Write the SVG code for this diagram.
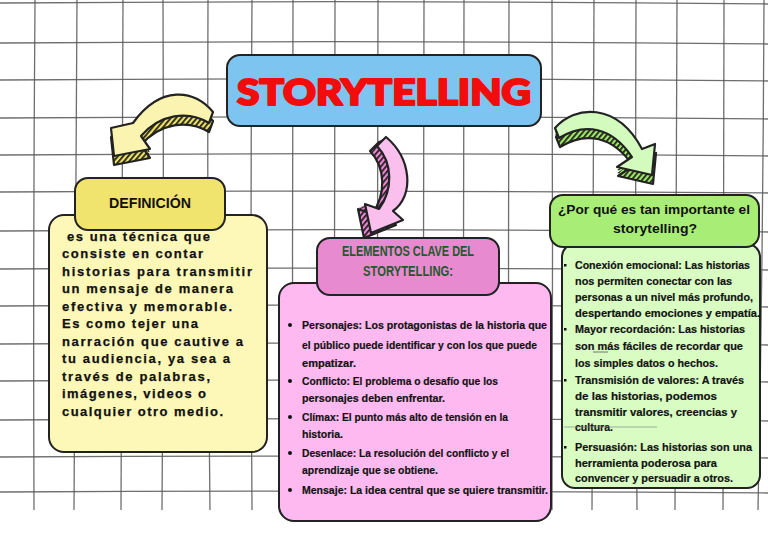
<svg xmlns="http://www.w3.org/2000/svg" width="768" height="544" viewBox="0 0 768 544">
<style>
.g{stroke:#555;stroke-width:1.3;fill:none;opacity:.85}
.box{stroke:#222;stroke-width:2}
.top{stroke:#222;stroke-width:2.2;stroke-linejoin:round}
.bot{stroke:#222;stroke-width:2.2;stroke-linejoin:round}
.def{font-family:"Liberation Sans",Arial,sans-serif;font-weight:bold;font-size:13px;fill:#111;stroke:#111;stroke-width:0.25}
.el{font-family:"Liberation Sans",Arial,sans-serif;font-weight:bold;font-size:11.5px;fill:#111;stroke:#111;stroke-width:0.2}
.wh{font-family:"Liberation Sans",Arial,sans-serif;font-weight:bold;font-size:11.5px;fill:#111;stroke:#111;stroke-width:0.2}
.hd{font-family:"Liberation Sans",Arial,sans-serif;font-weight:bold;text-anchor:middle}
</style>
<defs>
<pattern id="hy" width="4" height="4" patternUnits="userSpaceOnUse" patternTransform="rotate(40)"><rect width="4" height="4" fill="#EEE262"/><rect width="1.8" height="4" fill="#222"/></pattern>
<pattern id="hp" width="4" height="4" patternUnits="userSpaceOnUse" patternTransform="rotate(40)"><rect width="4" height="4" fill="#EE86D6"/><rect width="1.8" height="4" fill="#222"/></pattern>
<pattern id="hg" width="4" height="4" patternUnits="userSpaceOnUse" patternTransform="rotate(40)"><rect width="4" height="4" fill="#9EE866"/><rect width="1.8" height="4" fill="#222"/></pattern>
<path id="ay" d="M213,112 C195,89 160,85 133,123 L111,128 L114,156 L150,149 L141,136 C160,114 188,110 209,123 Z"/>
<path id="ap" d="M386,137 C411,158 415,195 393,211 L403,220 L371,233 L365,204 L379,209 C393,190 393,163 377,146 Z"/>
<path id="ag" d="M555,128 C575,105 617,102 642,149 L655,144 L652,175 L617,167 L632,157 C612,127 585,122 559,138 Z"/>
</defs>
<rect width="768" height="544" fill="#fff"/>
<g id="grid">
<path class="g" d="M0,3 Q384,0 768,4"/>
<path class="g" d="M0,43 Q384,40 768,44"/>
<path class="g" d="M0,80 Q384,77 768,81"/>
<path class="g" d="M0,118 Q384,115 768,119"/>
<path class="g" d="M0,155 Q384,152 768,156"/>
<path class="g" d="M0,192 Q384,190 768,193"/>
<path class="g" d="M0,231 Q384,228 768,232"/>
<path class="g" d="M0,269 Q384,267 768,270"/>
<path class="g" d="M0,306 Q384,304 768,307"/>
<path class="g" d="M0,344 Q384,342 768,345"/>
<path class="g" d="M0,381 Q384,379 768,382"/>
<path class="g" d="M0,420 Q384,417 768,421"/>
<path class="g" d="M0,457 Q384,455 768,458"/>
<path class="g" d="M0,492 Q384,490 768,493"/>
<path class="g" d="M35,0 Q33,255 34,510"/>
<path class="g" d="M77,0 Q75,255 74,510"/>
<path class="g" d="M123,0 Q121,255 121,510"/>
<path class="g" d="M163,0 Q164,255 162,510"/>
<path class="g" d="M208,0 Q207,255 210,510"/>
<path class="g" d="M252,0 Q250,255 252,510"/>
<path class="g" d="M293,0 Q292,255 293,510"/>
<path class="g" d="M335,0 Q334,255 335,510"/>
<path class="g" d="M378,0 Q377,255 378,510"/>
<path class="g" d="M424,0 Q423,255 424,510"/>
<path class="g" d="M464,0 Q463,255 464,510"/>
<path class="g" d="M509,0 Q508,255 509,510"/>
<path class="g" d="M552,0 Q553,255 552,510"/>
<path class="g" d="M594,0 Q593,255 592,510"/>
<path class="g" d="M636,0 Q635,255 637,510"/>
<path class="g" d="M677,0 Q676,255 675,510"/>
<path class="g" d="M724,0 Q723,255 723,510"/>
<path class="g" d="M764,0 Q763,255 758,510"/>
</g>
<g id="connectors">
<g id="arrow-definicion">
<use href="#ay" transform="translate(0,3)" fill="url(#hy)"/>
<use href="#ay" transform="translate(0,6)" fill="url(#hy)"/>
<use href="#ay" transform="translate(0,9)" fill="url(#hy)" class="bot"/>
<use href="#ay" fill="#FBF4B0" class="top"/>
</g>
<g id="arrow-elementos">
<use href="#ap" transform="translate(-2,1)" fill="url(#hp)"/>
<use href="#ap" transform="translate(-4,2)" fill="url(#hp)"/>
<use href="#ap" transform="translate(-6,3)" fill="url(#hp)"/>
<use href="#ap" transform="translate(-7,5)" fill="url(#hp)" class="bot"/>
<use href="#ap" fill="#FBBFEE" class="top"/>
</g>
<g id="arrow-porque">
<use href="#ag" transform="translate(0,3)" fill="url(#hg)"/>
<use href="#ag" transform="translate(0,6)" fill="url(#hg)"/>
<use href="#ag" transform="translate(1,9)" fill="url(#hg)" class="bot"/>
<use href="#ag" fill="#D3FBBE" class="top"/>
</g>
</g>
<g id="storytelling">
<rect class="box" x="227" y="55" width="314" height="71" rx="13" fill="#7DC5F0"/>
<text x="237" y="105" font-family="Lato, Inter, 'DejaVu Sans', sans-serif" font-weight="900" font-size="36" fill="#F20C0C" stroke="#F20C0C" stroke-width="2.2" stroke-linejoin="round" textLength="294" lengthAdjust="spacingAndGlyphs">STORYTELLING</text>
</g>
<g id="definicion">
<rect class="box" x="49" y="215" width="218" height="237" rx="15" fill="#FEF8B8"/>
<rect class="box" x="75" y="178" width="150" height="52" rx="13" fill="#F0E46E"/>
<text class="hd" x="150" y="208" font-size="15" fill="#111" textLength="82" lengthAdjust="spacingAndGlyphs">DEFINICIÓN</text>
<text class="def" x="67" y="241" textLength="143">es una técnica que</text>
<text class="def" x="62" y="258" textLength="141">consiste en contar</text>
<text class="def" x="62" y="276" textLength="190">historias para transmitir</text>
<text class="def" x="62" y="293" textLength="171">un mensaje de manera</text>
<text class="def" x="62" y="311" textLength="170">efectiva y memorable.</text>
<text class="def" x="62" y="328" textLength="136">Es como tejer una</text>
<text class="def" x="62" y="346" textLength="181">narración que cautive a</text>
<text class="def" x="62" y="363" textLength="168">tu audiencia, ya sea a</text>
<text class="def" x="62" y="381" textLength="148">través de palabras,</text>
<text class="def" x="62" y="398" textLength="144">imágenes, videos o</text>
<text class="def" x="62" y="416" textLength="161">cualquier otro medio.</text>
</g>
<g id="elementos">
<rect class="box" x="279" y="283" width="272" height="238" rx="15" fill="#FDB9F0"/>
<rect class="box" x="317" y="238" width="182" height="57" rx="13" fill="#E88ACF"/>
<text class="hd" x="408" y="256" font-size="14" fill="#1E5A2C" textLength="132" lengthAdjust="spacingAndGlyphs">ELEMENTOS CLAVE DEL</text>
<text class="hd" x="408" y="276" font-size="14" fill="#1E5A2C" textLength="90" lengthAdjust="spacingAndGlyphs">STORYTELLING:</text>
<g fill="#111"><circle cx="290" cy="325" r="2"/><circle cx="290" cy="381" r="2"/><circle cx="290" cy="417" r="2"/><circle cx="290" cy="453" r="2"/><circle cx="290" cy="490" r="2"/></g>
<text class="el" x="302" y="329" textLength="245" lengthAdjust="spacingAndGlyphs">Personajes: Los protagonistas de la historia que</text>
<text class="el" x="302" y="349" textLength="235" lengthAdjust="spacingAndGlyphs">el público puede identificar y con los que puede</text>
<text class="el" x="302" y="367" textLength="54" lengthAdjust="spacingAndGlyphs">empatizar.</text>
<text class="el" x="302" y="385" textLength="196" lengthAdjust="spacingAndGlyphs">Conflicto: El problema o desafío que los</text>
<text class="el" x="302" y="402" textLength="143" lengthAdjust="spacingAndGlyphs">personajes deben enfrentar.</text>
<text class="el" x="302" y="421" textLength="206" lengthAdjust="spacingAndGlyphs">Clímax: El punto más alto de tensión en la</text>
<text class="el" x="302" y="438" textLength="41" lengthAdjust="spacingAndGlyphs">historia.</text>
<text class="el" x="302" y="457" textLength="207" lengthAdjust="spacingAndGlyphs">Desenlace: La resolución del conflicto y el</text>
<text class="el" x="302" y="474" textLength="136" lengthAdjust="spacingAndGlyphs">aprendizaje que se obtiene.</text>
<text class="el" x="302" y="494" textLength="246" lengthAdjust="spacingAndGlyphs">Mensaje: La idea central que se quiere transmitir.</text>
</g>
<g id="porque">
<rect class="box" x="562" y="244" width="198" height="244" rx="13" fill="#D8FCC2"/>
<rect class="box" x="550" y="195" width="209" height="52" rx="13" fill="#A8EE76"/>
<text class="hd" x="654" y="214" font-size="13" fill="#111" textLength="192" lengthAdjust="spacingAndGlyphs">¿Por qué es tan importante el</text>
<text class="hd" x="655" y="233" font-size="13" fill="#111" textLength="84" lengthAdjust="spacingAndGlyphs">storytelling?</text>
<g fill="#111"><rect x="564" y="264" width="2.5" height="2.5"/><rect x="564" y="328" width="2.5" height="2.5"/><rect x="564" y="379" width="2.5" height="2.5"/><rect x="564" y="446" width="2.5" height="2.5"/></g>
<text class="wh" x="575" y="269" textLength="175" lengthAdjust="spacingAndGlyphs">Conexión emocional: Las historias</text>
<text class="wh" x="575" y="285" textLength="157" lengthAdjust="spacingAndGlyphs">nos permiten conectar con las</text>
<text class="wh" x="575" y="301" textLength="178" lengthAdjust="spacingAndGlyphs">personas a un nivel más profundo,</text>
<text class="wh" x="575" y="317" textLength="185" lengthAdjust="spacingAndGlyphs">despertando emociones y empatía.</text>
<text class="wh" x="575" y="333" textLength="170" lengthAdjust="spacingAndGlyphs">Mayor recordación: Las historias</text>
<text class="wh" x="575" y="350" textLength="168" lengthAdjust="spacingAndGlyphs">son más fáciles de recordar que</text>
<text class="wh" x="575" y="367" textLength="143" lengthAdjust="spacingAndGlyphs">los simples datos o hechos.</text>
<text class="wh" x="575" y="384" textLength="169" lengthAdjust="spacingAndGlyphs">Transmisión de valores: A través</text>
<text class="wh" x="575" y="400" textLength="142" lengthAdjust="spacingAndGlyphs">de las historias, podemos</text>
<text class="wh" x="575" y="416" textLength="162" lengthAdjust="spacingAndGlyphs">transmitir valores, creencias y</text>
<text class="wh" x="575" y="431" textLength="38" lengthAdjust="spacingAndGlyphs">cultura.</text>
<text class="wh" x="575" y="451" textLength="177" lengthAdjust="spacingAndGlyphs">Persuasión: Las historias son una</text>
<text class="wh" x="575" y="467" textLength="142" lengthAdjust="spacingAndGlyphs">herramienta poderosa para</text>
<text class="wh" x="575" y="482" textLength="158" lengthAdjust="spacingAndGlyphs">convencer y persuadir a otros.</text>
<line x1="593" y1="352" x2="608" y2="352" stroke="#555" stroke-width="0.8"/>
<line x1="564" y1="427" x2="657" y2="427" stroke="#777" stroke-width="0.6"/>
</g>
</svg>
